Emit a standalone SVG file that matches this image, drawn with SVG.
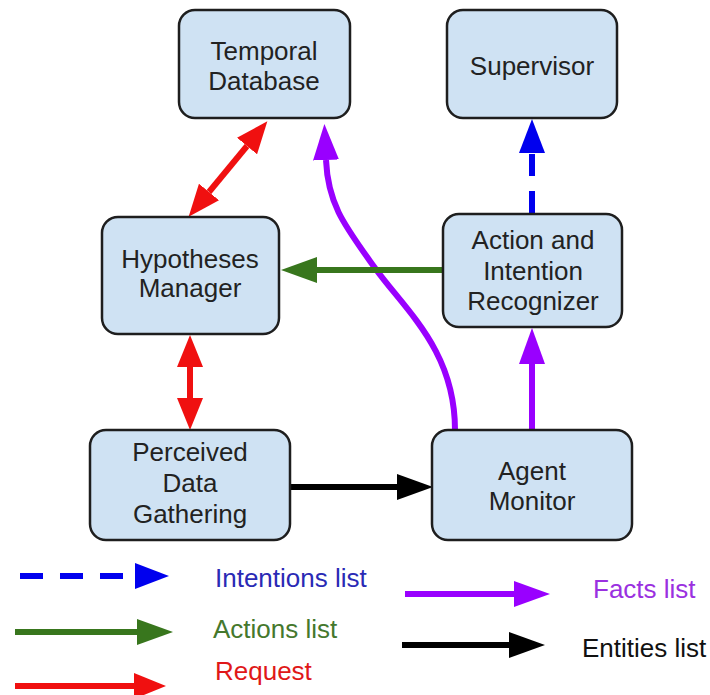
<svg xmlns="http://www.w3.org/2000/svg" width="710" height="695" viewBox="0 0 710 695">
<style>
.box{fill:#cfe2f3;stroke:#1e1e1e;stroke-width:2.5}
.t{font-family:"Liberation Sans",Arial,sans-serif;font-size:26px;fill:#222;text-anchor:middle}
.lg{font-family:"Liberation Sans",Arial,sans-serif;font-size:26px}
.c{fill:none;stroke-width:6}
</style>
<defs>
<marker id="hR" markerUnits="userSpaceOnUse" viewBox="0 0 32 26" refX="0" refY="13" markerWidth="32" markerHeight="26" orient="auto-start-reverse"><path d="M0,0 L32,13 L0,26 Z" fill="#f01010"/></marker>
<marker id="hP" markerUnits="userSpaceOnUse" viewBox="0 0 36 26" refX="0" refY="13" markerWidth="36" markerHeight="26" orient="auto"><path d="M0,0 L36,13 L0,26 Z" fill="#9900ff"/></marker>
<marker id="hG" markerUnits="userSpaceOnUse" viewBox="0 0 36 26" refX="0" refY="13" markerWidth="36" markerHeight="26" orient="auto"><path d="M0,0 L36,13 L0,26 Z" fill="#38761d"/></marker>
<marker id="hB" markerUnits="userSpaceOnUse" viewBox="0 0 34 26" refX="0" refY="13" markerWidth="34" markerHeight="26" orient="auto"><path d="M0,0 L34,13 L0,26 Z" fill="#0000ee"/></marker>
<marker id="hK" markerUnits="userSpaceOnUse" viewBox="0 0 36 26" refX="0" refY="13" markerWidth="36" markerHeight="26" orient="auto"><path d="M0,0 L36,13 L0,26 Z" fill="#000"/></marker>
</defs>
<rect width="710" height="695" fill="#fff"/>

<g id="connectors">
<path class="c" stroke="#f01010" d="M209,192 L247,146" marker-start="url(#hR)" marker-end="url(#hR)"/>
<path class="c" stroke="#f01010" d="M190,367 L190,398" marker-start="url(#hR)" marker-end="url(#hR)"/>
<path class="c" stroke="#9900ff" d="M455,430 C455,350 405,310 375,268 S328,205 326,160" marker-end="url(#hP)"/>
<path class="c" stroke="#0000ee" stroke-dasharray="22 15" d="M532,213 L532,153" marker-end="url(#hB)"/>
<path class="c" stroke="#38761d" d="M443,270 L317,270" marker-end="url(#hG)"/>
<path class="c" stroke="#9900ff" d="M532,430 L532,364" marker-end="url(#hP)"/>
<path class="c" stroke="#000" d="M290,487 L397,487" marker-end="url(#hK)"/>
</g>

<g id="temporal-database"><rect class="box" x="179" y="10" width="171" height="108" rx="16"/><text class="t" x="264" y="60">Temporal</text><text class="t" x="264" y="90">Database</text></g>
<g id="supervisor"><rect class="box" x="447" y="10" width="170" height="108" rx="16"/><text class="t" x="532" y="75">Supervisor</text></g>
<g id="hypotheses-manager"><rect class="box" x="102" y="217" width="177" height="117" rx="16"/><text class="t" x="190" y="268">Hypotheses</text><text class="t" x="190" y="297">Manager</text></g>
<g id="action-intention-recognizer"><rect class="box" x="443" y="214" width="179" height="113" rx="16"/><text class="t" x="533" y="249">Action and</text><text class="t" x="533" y="280">Intention</text><text class="t" x="533" y="310">Recognizer</text></g>
<g id="perceived-data-gathering"><rect class="box" x="90" y="430" width="200" height="110" rx="16"/><text class="t" x="190" y="461">Perceived</text><text class="t" x="190" y="492">Data</text><text class="t" x="190" y="523">Gathering</text></g>
<g id="agent-monitor"><rect class="box" x="432" y="430" width="200" height="110" rx="16"/><text class="t" x="532" y="480">Agent</text><text class="t" x="532" y="510">Monitor</text></g>

<g id="legend">
<path class="c" stroke="#0000ee" stroke-dasharray="23 17" d="M20,576 L135,576" marker-end="url(#hB)"/>
<text class="lg" x="215" y="587" fill="#2a2ab5">Intentions list</text>
<path class="c" stroke="#38761d" d="M15,632 L137,632" marker-end="url(#hG)"/>
<text class="lg" x="213" y="638" fill="#45782d">Actions list</text>
<path class="c" stroke="#f01010" d="M15,686 L134,686" marker-end="url(#hR)"/>
<text class="lg" x="215" y="680" fill="#e01818">Request</text>
<path class="c" stroke="#9900ff" d="M405,594 L514,594" marker-end="url(#hP)"/>
<text class="lg" x="593" y="598" fill="#9a30e0">Facts list</text>
<path class="c" stroke="#000" d="M402,645 L509,645" marker-end="url(#hK)"/>
<text class="lg" x="582" y="657" fill="#111">Entities list</text>
</g>
</svg>
